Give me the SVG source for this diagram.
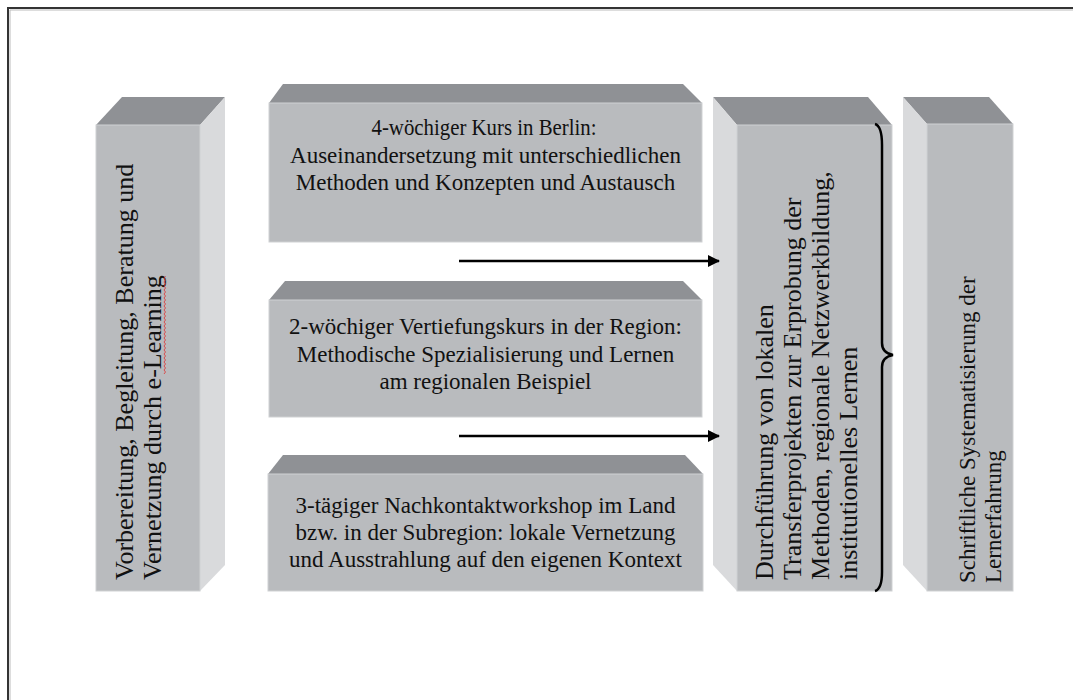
<svg xmlns="http://www.w3.org/2000/svg" width="1073" height="700" viewBox="0 0 1073 700">
<defs>
<style>
.front{fill:#b9bbbe;stroke:#cfd1d3;stroke-width:1}
.top{fill:#8f9195}
.side{fill:#d9dadc}
.t{font-family:"Liberation Serif","Times New Roman",serif;fill:#111;font-size:23px}
.tc{text-anchor:middle}
.big{font-size:26px}
.conn{stroke:#000;stroke-width:2.5;fill:none}
</style>
<marker id="ah" markerWidth="12" markerHeight="12" refX="11" refY="6" orient="auto" markerUnits="userSpaceOnUse">
<path d="M0,0 L12,6 L0,12 Z" fill="#000"/>
</marker>
</defs>
<rect x="0" y="0" width="1073" height="700" fill="#fff"/>
<path d="M8,700 V8 H1073" fill="none" stroke="#333" stroke-width="2"/>
<path d="M10,700 V10 H1073" fill="none" stroke="#bbb" stroke-width="1"/>

<g id="prep">
<polygon class="top" points="96,125 122,97 225,97 200,125"/>
<polygon class="side" points="200,125 225,97 225,565 200,591"/>
<rect class="front" x="96" y="125" width="104" height="466"/>
<text class="t big" transform="translate(133,580) rotate(-90)">Vorbereitung, Begleitung, Beratung und</text>
<text class="t big" transform="translate(161,580) rotate(-90)">Vernetzung durch e-Learning</text>
<path d="M164,374 l1.5,-2 l-1.5,-2 l1.5,-2 l-1.5,-2 l1.5,-2 l-1.5,-2 l1.5,-2 l-1.5,-2 l1.5,-2 l-1.5,-2 l1.5,-2 l-1.5,-2 l1.5,-2 l-1.5,-2 l1.5,-2 l-1.5,-2 l1.5,-2 l-1.5,-2 l1.5,-2 l-1.5,-2 l1.5,-2 l-1.5,-2 l1.5,-2 l-1.5,-2 l1.5,-2 l-1.5,-2 l1.5,-2 l-1.5,-2 l1.5,-2 l-1.5,-2 l1.5,-2 l-1.5,-2 l1.5,-2 l-1.5,-2 l1.5,-2 l-1.5,-2 l1.5,-2 l-1.5,-2 l1.5,-2 l-1.5,-2 l1.5,-2 l-1.5,-2 l1.5,-2 l-1.5,-2 l1.5,-2 l-1.5,-2 l1.5,-2 l-1.5,-2 l1.5,-2" fill="none" stroke="#e03030" stroke-width="0.8"/>
</g>

<g id="kurs4">
<polygon class="top" points="269,103 283,84 683,84 702,103"/>
<rect class="front" x="269" y="103" width="433" height="139"/>
<text class="t tc" x="484" y="135" textLength="225" lengthAdjust="spacingAndGlyphs">4-wöchiger Kurs in Berlin:</text>
<text class="t tc" x="485.5" y="163">Auseinandersetzung mit unterschiedlichen</text>
<text class="t tc" x="485.5" y="190">Methoden und Konzepten und Austausch</text>
</g>

<g id="kurs2">
<polygon class="top" points="269,300 285,281 683,281 702,300"/>
<rect class="front" x="269" y="300" width="433" height="117"/>
<text class="t tc" x="485.5" y="334">2-wöchiger Vertiefungskurs in der Region:</text>
<text class="t tc" x="485.5" y="361.5">Methodische Spezialisierung und Lernen</text>
<text class="t tc" x="485.5" y="389">am regionalen Beispiel</text>
</g>

<g id="workshop">
<polygon class="top" points="268,474 283,455 685,455 703,474"/>
<rect class="front" x="268" y="474" width="435" height="117"/>
<text class="t tc" x="485.5" y="512.5">3-tägiger Nachkontaktworkshop im Land</text>
<text class="t tc" x="485.5" y="540">bzw. in der Subregion: lokale Vernetzung</text>
<text class="t tc" x="485.5" y="567">und Ausstrahlung auf den eigenen Kontext</text>
</g>

<g id="transfer">
<polygon class="top" points="713,97 868,97 892,125 737,125"/>
<polygon class="side" points="713,97 737,125 737,591 713,565"/>
<rect class="front" x="737" y="125" width="155" height="466"/>
<text class="t big" transform="translate(773,580) rotate(-90)">Durchführung von lokalen</text>
<text class="t big" transform="translate(801,580) rotate(-90)">Transferprojekten zur Erprobung der</text>
<text class="t big" transform="translate(829,580) rotate(-90)">Methoden, regionale Netzwerkbildung,</text>
<text class="t big" transform="translate(857,580) rotate(-90)">institutionelles Lernen</text>
</g>

<g id="system">
<polygon class="top" points="903,97 989,97 1013,124 927,124"/>
<polygon class="side" points="903,97 927,124 927,591 903,565"/>
<rect class="front" x="927" y="124" width="86" height="467"/>
<text class="t" transform="translate(975,583) rotate(-90)">Schriftliche Systematisierung der</text>
<text class="t" transform="translate(1001,583) rotate(-90)">Lernerfahrung</text>
</g>

<g id="connectors">
<line class="conn" x1="459" y1="261" x2="719" y2="261" marker-end="url(#ah)"/>
<line class="conn" x1="459" y1="436" x2="719" y2="436" marker-end="url(#ah)"/>
<path class="conn" d="M875,124 Q882,126 882,145 L882,343 Q882,353 893,355 Q882,357 882,367 L882,572 Q882,589 875,591"/>
</g>
</svg>
